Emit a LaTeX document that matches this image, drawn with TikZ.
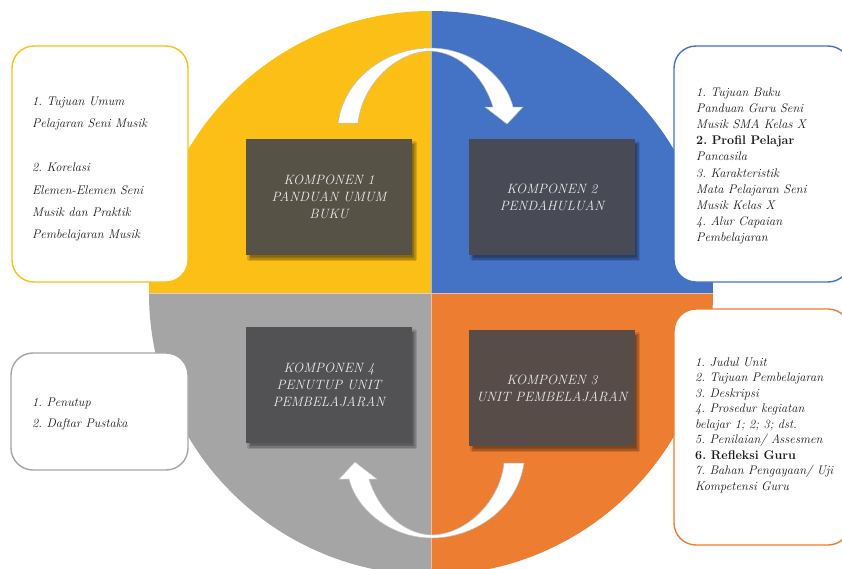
\documentclass[tikz,border=0pt]{standalone}
\usetikzlibrary{shadows.blur}
\definecolor{qyellow}{RGB}{251,191,22}
\definecolor{qblue}{RGB}{68,114,196}
\definecolor{qorange}{RGB}{237,125,49}
\definecolor{qgray}{RGB}{165,165,165}
\definecolor{kone}{RGB}{87,82,70}
\definecolor{ktwo}{RGB}{72,75,86}
\definecolor{kthree}{RGB}{87,76,72}
\definecolor{kfour}{RGB}{82,82,84}
\definecolor{ktext}{RGB}{235,235,235}
\definecolor{btext}{RGB}{25,25,25}
\frenchspacing
\begin{document}
\begin{tikzpicture}[x=1pt,y=-1pt,
  kbox/.style={minimum width=166pt,minimum height=116pt,inner sep=0pt,align=center,
    text=ktext,font={\fontsize{13.5}{17}\selectfont\itshape},
    blur shadow={shadow xshift=3pt,shadow yshift=-4pt,shadow blur steps=6,shadow opacity=45}},
  sbox/.style={draw,fill=white,line width=1.4pt,rounded corners=22pt,
    minimum width=176pt,inner sep=0pt},
  stext/.style={anchor=west,inner sep=0pt,align=left,text=btext},
  arrowshape/.style={fill=white,draw=black!25,line width=.5pt}]
\clip (0,0) rectangle (842,568);
\begin{scope}
  \clip (431,293) circle[radius=282pt];
  \fill[qyellow] (431,293) rectangle (140,0);
  \fill[qblue] (431,293) rectangle (720,0);
  \fill[qgray] (431,293) rectangle (140,580);
  \fill[qorange] (431,293) rectangle (720,580);
  \draw[white,opacity=.5,line width=.6pt] (140,293) -- (720,293) (431,0) -- (431,580);
\end{scope}
% curved arrows
\path[arrowshape] (338,123) .. controls (345,75) and (390,48) .. (430,48)
  .. controls (470,48) and (505,75) .. (513,107) -- (523,107) -- (507,124) -- (485,107) -- (493,107)
  .. controls (485,80) and (462,52) .. (430,51)
  .. controls (395,52) and (362,85) .. (358,123) -- cycle;
\path[arrowshape,rotate around={180:(431,293)}] (338,123) .. controls (345,75) and (390,48) .. (430,48)
  .. controls (470,48) and (505,75) .. (513,107) -- (523,107) -- (507,124) -- (485,107) -- (493,107)
  .. controls (485,80) and (462,52) .. (430,51)
  .. controls (395,52) and (362,85) .. (358,123) -- cycle;
% component boxes
\node[kbox,fill=kone] (k1) at (329,197) {KOMPONEN 1\\PANDUAN UMUM\\BUKU};
\node[kbox,fill=ktwo] (k2) at (552,197) {KOMPONEN 2\\PENDAHULUAN};
\node[kbox,fill=kfour] (k4) at (329,385) {KOMPONEN 4\\PENUTUP UNIT\\PEMBELAJARAN};
\node[kbox,fill=kthree] (k3) at (552,388) {KOMPONEN 3\\UNIT PEMBELAJARAN};
% side boxes
\node[sbox,draw=qyellow,minimum height=236pt] (tl) at (100,164) {};
\node[stext,font={\fontsize{12.5}{22.2}\selectfont\itshape}] (tltext) at (32,169)
  {1. Tujuan Umum\\Pelajaran Seni Musik\\[22.2pt]2. Korelasi\\Elemen-Elemen Seni\\Musik dan Praktik\\Pembelajaran Musik};
\node[sbox,draw=qblue,minimum height=236pt] (tr) at (762,164) {};
\node[stext,font={\fontsize{12.5}{16.2}\selectfont\itshape}] (trtext) at (696,166)
  {1. Tujuan Buku\\Panduan Guru Seni\\Musik SMA Kelas X\\{\upshape\bfseries 2. Profil Pelajar}\\Pancasila\\3. Karakteristik\\Mata Pelajaran Seni\\Musik Kelas X\\4. Alur Capaian\\Pembelajaran};
\node[sbox,draw=qorange,minimum height=236pt] (br) at (762,427) {};
\node[stext,font={\fontsize{12.5}{15.5}\selectfont\itshape}] (brtext) at (695,425)
  {1. Judul Unit\\2. Tujuan Pembelajaran\\3. Deskripsi\\4. Prosedur kegiatan\\belajar 1; 2; 3; dst.\\5. Penilaian/ Assesmen\\{\upshape\bfseries 6. Refleksi Guru}\\7. Bahan Pengayaan/ Uji\\Kompetensi Guru};
\node[sbox,draw=qgray,minimum width=177pt,minimum height=117pt] (bl) at (99.5,411.5) {};
\node[stext,font={\fontsize{12.5}{21}\selectfont\itshape}] (bltext) at (32,414)
  {1. Penutup\\2. Daftar Pustaka};
\end{tikzpicture}
\end{document}
